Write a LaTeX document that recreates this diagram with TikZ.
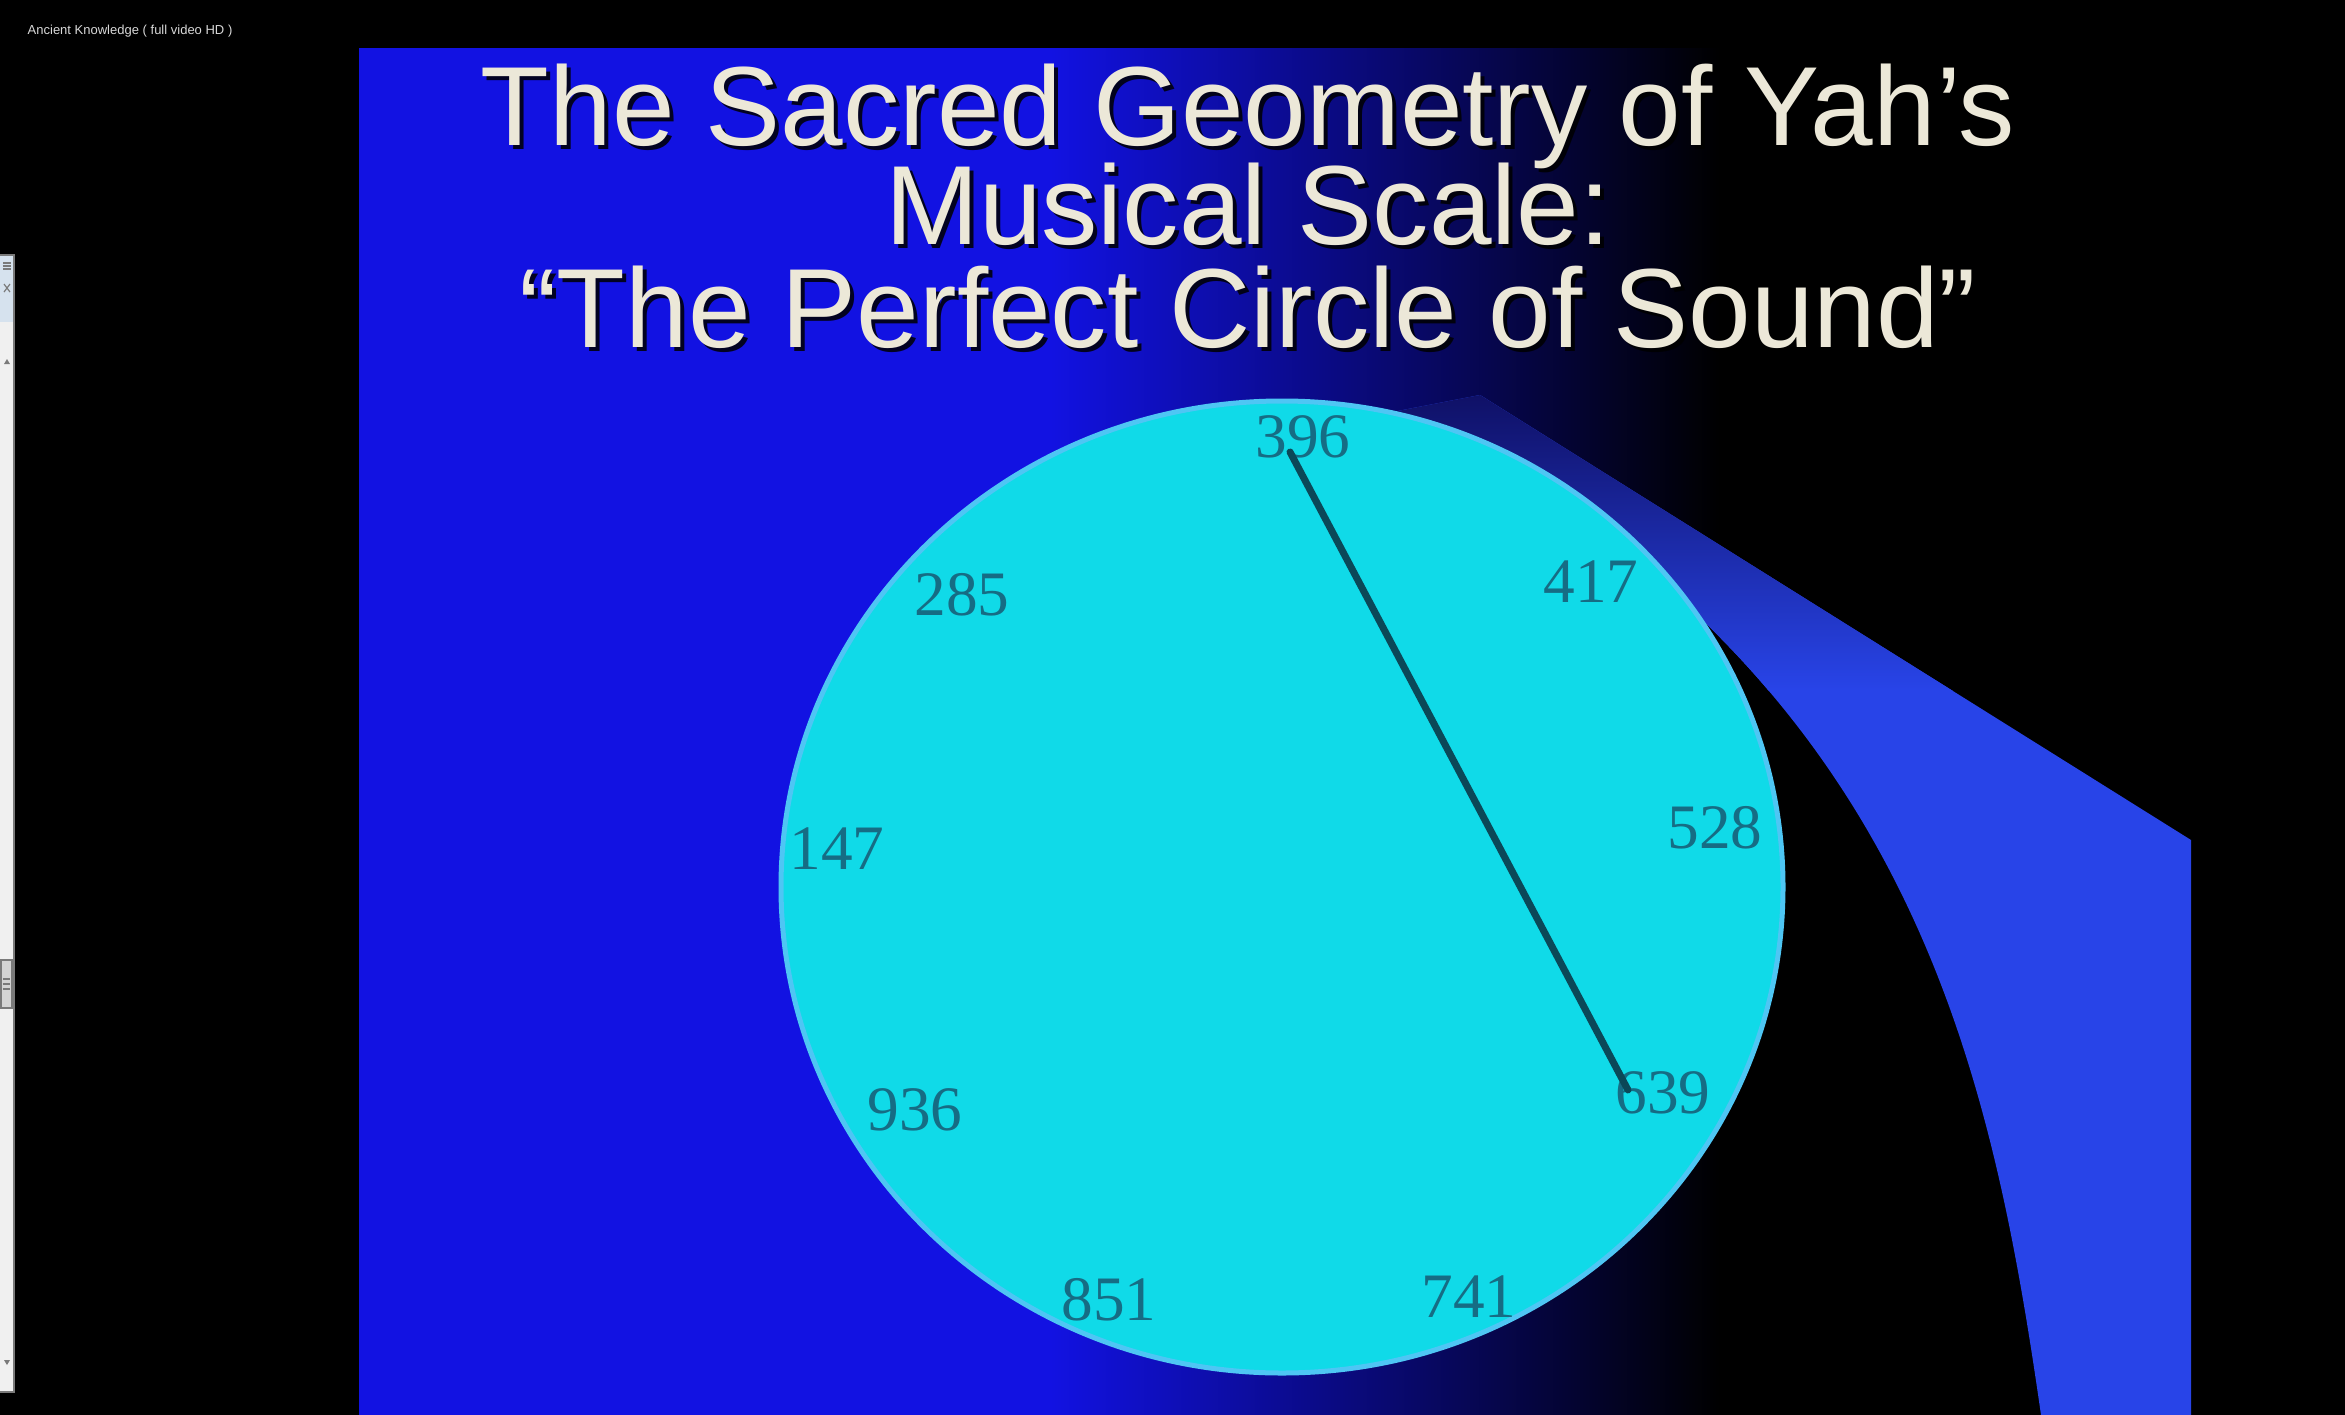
\documentclass[tikz,border=0pt]{standalone}
\usepackage{fontspec}
\setmainfont{Liberation Serif}
\newfontfamily\titlefont{Liberation Sans}
\usepackage{xcolor}
\definecolor{panelblue}{HTML}{1212E2}
\definecolor{discfill}{HTML}{10DAE8}
\definecolor{discrim}{HTML}{4EC6F4}
\definecolor{swblue}{HTML}{2844E8}
\definecolor{swdark}{HTML}{0E0E60}
\definecolor{chordteal}{HTML}{0B4858}
\definecolor{numteal}{HTML}{166C84}
\definecolor{cream}{HTML}{ECE8D8}
\definecolor{uigrey}{HTML}{F0F0F0}
\definecolor{uiedge}{HTML}{7A7A7A}
\definecolor{uihead}{HTML}{D6E2EE}
\definecolor{uithumb}{HTML}{D4D4D4}
\definecolor{uitext}{HTML}{D8D8D8}
\usepackage{tikz}
\tikzset{
  disc/.style    ={fill=discfill,draw=discrim,line width=0.05cm},
  swoosh/.style  ={fill=swblue},
  chord/.style   ={draw=chordteal,line width=0.07cm,line cap=round},
  freq/.style    ={font=\fontsize{18}{20}\selectfont,text=numteal,inner sep=0pt},
  headline/.style={font=\titlefont\fontsize{32}{36}\selectfont,text=cream,
                   inner sep=0pt,anchor=base},
  headshade/.style={headline,text=black,opacity=0.85},
  uibar/.style   ={fill=uigrey,draw=uiedge,line width=0.02cm},
  uimark/.style  ={draw=uiedge,line width=0.012cm},
}
\newcommand{\swooshpath}{(1300,430) -- (1480,395) -- (2191,840) -- (2191,1415)
  -- (2041,1415) .. controls (2000,1130) and (1940,830) .. (1670,590) -- cycle}

\begin{document}
\begin{tikzpicture}[x=0.01cm,y=-0.01cm]
\useasboundingbox (0,0) rectangle (2345,1415);
\fill[black] (0,0) rectangle (2345,1415);

%================= slide background (blue fading to black)
\fill[panelblue] (359,48) rectangle (1052,1415);
\shade[left color=panelblue,right color=black] (1050,48) rectangle (1720,1415);

%================= swoosh behind the disc (dark at its top end)
\fill[swoosh] \swooshpath;
\begin{scope}
  \clip \swooshpath;
  \begin{scope}[y=0.01cm]
    \shade[top color=swdark,bottom color=swblue] (1250,-380) rectangle (2200,-690);
  \end{scope}
\end{scope}

%================= disc, numbers and chord
\draw[disc] (1282,887) ellipse [x radius=501,y radius=486];
\foreach \x/\y/\f in {1303/437/396, 1591/582/417, 1715/828/528,
                      1663/1093/639, 1469/1297/741, 1109/1300/851,
                      915/1110/936, 837/849/147, 962/595/285}
  \node[freq] (f\f) at (\x,\y) {\f};
\coordinate (chordtop) at (1290,452);
\coordinate (chordend) at (1628,1090);
\draw[chord] (chordtop) -- (chordend);

%================= title
\foreach \n/\y/\txt in {1/145/The Sacred Geometry of Yah’s,
                        2/244/Musical Scale:,
                        3/347/“The Perfect Circle of Sound”}
 {\node[headshade] (s\n) at (1252,\y+4) {\txt};
  \node[headline] (t\n) at (1248,\y) {\txt};}

%================= window chrome
\node[font=\titlefont\fontsize{3.7}{4}\selectfont,text=uitext,anchor=west,
      inner sep=0pt] (chan) at (27,31) {Ancient Knowledge ( full video HD )};
\draw[uibar] (-2,255) rectangle (14,1392);
\fill[uihead] (0,256) rectangle (13,322);
\foreach \y in {263,266,269} \draw[uimark] (3,\y) -- (11,\y);
\draw[uimark] (4,284) -- (10,292) (4,292) -- (10,284);
\fill[uiedge] (4,364) -- (10,364) -- (7,359) -- cycle;
\draw[uimark,fill=uithumb] (1,960) rectangle (12,1008);
\foreach \y in {979,984,989} \draw[uimark] (3,\y) -- (10,\y);
\fill[uiedge] (4,1360) -- (10,1360) -- (7,1365) -- cycle;
\end{tikzpicture}
\end{document}
